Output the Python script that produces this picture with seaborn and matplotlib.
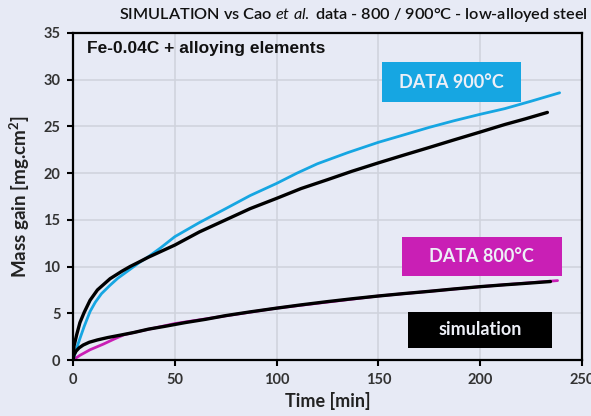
import numpy as np
import pandas as pd
import matplotlib
matplotlib.use("Agg")
import matplotlib.pyplot as plt
from matplotlib.patches import Rectangle
import seaborn as sns

# ---- data ----
t_data900 = [0, 1, 2, 3.4, 5.5, 8.4, 11, 14, 18.2, 22, 28, 33, 37, 43, 50, 62, 75, 87, 100,
             110, 120, 135, 150, 161, 175, 187, 200, 212, 225, 239]
m_data900 = [0, 0.7, 1.4, 2.3, 3.6, 5.2, 6.2, 7.1, 8.0, 8.75, 9.7, 10.5, 11.05, 12.0, 13.2, 14.7,
             16.2, 17.6, 18.9, 20.0, 21.0, 22.2, 23.3, 24.0, 24.9, 25.6, 26.3, 26.9, 27.7, 28.6]

t_sim900 = [0, 0.5, 1.8, 3.4, 5.5, 8.4, 12, 18.2, 24, 28, 33, 37, 43, 50, 62, 75, 87, 100,
            112, 125, 137, 150, 162, 175, 187, 200, 212, 222, 233]
m_sim900 = [0, 1.5, 2.7, 4.0, 5.1, 6.4, 7.5, 8.7, 9.5, 10.0, 10.55, 11.0, 11.6, 12.3, 13.7,
            15.0, 16.2, 17.3, 18.35, 19.3, 20.2, 21.1, 21.9, 22.75, 23.55, 24.4, 25.2, 25.8, 26.5]

t_data800 = [0, 3.4, 8.4, 14.9, 19.8, 25, 30, 50, 100, 150, 200, 238]
m_data800 = [0, 0.5, 1.1, 1.7, 2.2, 2.7, 2.95, 3.9, 5.55, 6.85, 7.85, 8.5]

t_sim800 = [0, 0.5, 1.5, 3, 5, 8, 12, 17, 23, 30, 37, 45, 55, 65, 75, 87, 100, 112, 125,
            137, 150, 162, 175, 187, 200, 212, 222, 234.5]
m_sim800 = [0, 0.55, 0.95, 1.3, 1.6, 1.9, 2.15, 2.4, 2.65, 2.95, 3.3, 3.6, 4.0, 4.35, 4.75,
            5.15, 5.55, 5.9, 6.25, 6.55, 6.85, 7.1, 7.35, 7.6, 7.85, 8.05, 8.2, 8.4]

x_ticks = [0, 50, 100, 150, 200, 250]
y_ticks = [0, 5, 10, 15, 20, 25, 30, 35]

BG = "#E7EAF5"
BLUE = "#16A6E2"
MAGENTA = "#C91FB5"
BLACK = "#000000"

df = pd.concat([
    pd.DataFrame({"Time": t_data800, "Mass": m_data800, "series": "DATA 800"}),
    pd.DataFrame({"Time": t_data900, "Mass": m_data900, "series": "DATA 900"}),
    pd.DataFrame({"Time": t_sim900, "Mass": m_sim900, "series": "SIM 900"}),
    pd.DataFrame({"Time": t_sim800, "Mass": m_sim800, "series": "SIM 800"}),
], ignore_index=True)

sns.set_theme(style="whitegrid")
plt.rcParams["font.family"] = ["Lato", "DejaVu Sans"]
plt.rcParams["mathtext.fontset"] = "custom"
plt.rcParams["mathtext.rm"] = "Lato"
plt.rcParams["mathtext.it"] = "Lato:italic"
plt.rcParams["mathtext.bf"] = "Lato:bold"

fig = plt.figure(figsize=(5.91, 4.16), dpi=100, facecolor=BG)
ax = fig.add_axes([73 / 591, 56 / 416, 509 / 591, 327 / 416])
ax.set_facecolor(BG)

styles = {"DATA 800": (MAGENTA, 2.0), "DATA 900": (BLUE, 2.0),
          "SIM 900": (BLACK, 2.4), "SIM 800": (BLACK, 2.4)}
for name in ["DATA 800", "DATA 900", "SIM 900", "SIM 800"]:
    sub = df[df["series"] == name]
    c, lw = styles[name]
    sns.lineplot(data=sub, x="Time", y="Mass", ax=ax, color=c, linewidth=lw,
                 sort=False, estimator=None, legend=False)

ax.set_xlim(0, 250)
ax.set_ylim(0, 35)
ax.set_xticks(x_ticks)
ax.set_yticks(y_ticks)
ax.set_xticklabels([str(v) for v in x_ticks], fontweight="bold", fontsize=10.5, color="#333333")
ax.set_yticklabels([str(v) for v in y_ticks], fontweight="bold", fontsize=10.5, color="#333333")
ax.grid(True, color="#CFD2DC", linewidth=1.1)
for s in ax.spines.values():
    s.set_visible(True)
    s.set_color("black")
    s.set_linewidth(1.6)
ax.tick_params(axis="both", which="both", length=4.5, width=1.5, color="black",
               direction="out", pad=4.5)
ax.tick_params(axis="y", left=True, right=False)
ax.tick_params(axis="x", bottom=True, top=False)

ax.set_xlabel("Time [min]", fontweight="bold", fontsize=13, color="#222222", labelpad=4)
ax.set_ylabel("Mass gain [mg.cm$^{\\mathbf{2}}$]", fontweight="bold", fontsize=13.5,
              color="#222222", labelpad=8)

fig.text(588 / 591, 1 - 15 / 416,
         r"SIMULATION vs Cao $\mathit{et\ al.}$ data - 800 / 900°C - low-alloyed steel",
         ha="right", va="center", fontsize=11.7, color="#111111", fontweight="semibold")

ax.text(0.0275, 0.952, "Fe-0.04C + alloying elements", transform=ax.transAxes,
        ha="left", va="center", fontsize=12.5, fontweight="bold", color="#111111",
        family=["Liberation Sans", "DejaVu Sans"])

def label_box(x0, x1, y0, y1, color, text):
    ax.add_patch(Rectangle((x0, y0), x1 - x0, y1 - y0, transform=ax.transAxes,
                           facecolor=color, edgecolor="none", zorder=5, clip_on=False))
    ax.text((x0 + x1) / 2, (y0 + y1) / 2, text, transform=ax.transAxes,
            ha="center", va="center", fontsize=13, fontweight="bold",
            color="#EDEFF7", zorder=6)

label_box(0.6065, 0.880, 0.790, 0.910, BLUE, "DATA 900°C")
label_box(0.6458, 0.960, 0.257, 0.375, MAGENTA, "DATA 800°C")
label_box(0.659, 0.9417, 0.0376, 0.1477, BLACK, "simulation")

fig.savefig("out.png", dpi=100, facecolor=BG)
